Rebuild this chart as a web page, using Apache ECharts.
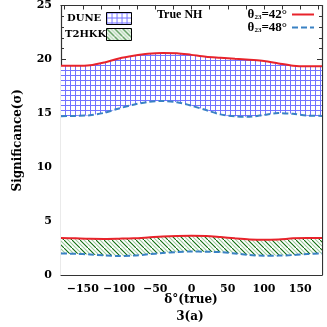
<!DOCTYPE html>
<html>
<head>
<meta charset="utf-8">
<script src="https://cdn.jsdelivr.net/npm/echarts@6/dist/echarts.min.js"></script>
<style>
  html, body { margin: 0; padding: 0; background: #fff; }
  #chart { width: 327px; height: 327px; }
</style>
</head>
<body>
<div id="chart"></div>
<script>
// delta_CP (true), degrees
const deltaCP = [-180, -160, -140, -120, -100, -80, -60, -40, -20, 0, 20, 40, 60, 80, 100, 120, 140, 160, 180]
// DUNE, theta23 = 42 (upper edge) and 48 (lower edge)
const dune42 = [19.40, 19.40, 19.45, 19.72, 20.08, 20.33, 20.52, 20.60, 20.58, 20.42, 20.25, 20.15, 20.05, 19.96, 19.86, 19.63, 19.42, 19.37, 19.37]
const dune48 = [14.73, 14.76, 14.82, 15.05, 15.45, 15.80, 16.05, 16.14, 16.02, 15.70, 15.30, 14.90, 14.72, 14.68, 14.85, 15.02, 14.95, 14.78, 14.76]
// T2HKK
const t2hkk42 = [3.44, 3.40, 3.36, 3.35, 3.37, 3.40, 3.48, 3.57, 3.62, 3.63, 3.62, 3.52, 3.40, 3.30, 3.26, 3.30, 3.40, 3.44, 3.44]
const t2hkk48 = [2.00, 1.96, 1.91, 1.82, 1.76, 1.80, 1.92, 2.04, 2.12, 2.18, 2.16, 2.12, 2.00, 1.86, 1.79, 1.80, 1.85, 1.95, 2.00]

const xTicks = [-175, -150, -125, -100, -75, -50, -25, 0, 25, 50, 75, 100, 125, 150, 175]
const xLabels = [-150, -100, -50, 0, 50, 100, 150]

const font = 'DejaVu Serif'
const font2 = 'Liberation Serif'

// blue grid fill for DUNE
function gridPattern() {
  const c = document.createElement('canvas')
  c.width = 5
  c.height = 5
  const g = c.getContext('2d')
  g.fillStyle = '#ffffff'
  g.fillRect(0, 0, 5, 5)
  g.fillStyle = '#7272ff'
  g.fillRect(0, 0, 1, 5)
  g.fillRect(0, 0, 5, 1)
  return c
}

// green diagonal hatch for T2HKK
function hatchPattern() {
  const c = document.createElement('canvas')
  c.width = 8
  c.height = 8
  const g = c.getContext('2d')
  g.fillStyle = '#ffffff'
  g.fillRect(0, 0, 8, 8)
  g.lineWidth = 1.1
  g.strokeStyle = '#0b6b0b'
  g.beginPath()
  g.moveTo(-1, -1); g.lineTo(9, 9)
  g.stroke()
  g.strokeStyle = '#9ccc9c'
  g.beginPath()
  g.moveTo(3, -1); g.lineTo(9, 5)
  g.moveTo(-1, 3); g.lineTo(5, 9)
  g.stroke()
  return c
}

const gridFill = { image: gridPattern(), repeat: 'repeat' }
const hatchFill = { image: hatchPattern(), repeat: 'repeat' }

function pairs(ys) {
  return deltaCP.map((x, i) => [x, ys[i]])
}

function minus(v) {
  return v < 0 ? '\u2212' + (-v) : String(v)
}

const chart = echarts.init(document.getElementById('chart'))

const axisLine = { show: true, onZero: false, lineStyle: { color: '#333', width: 1.2 } }
const boldText = { fontFamily: font, fontWeight: 'bold', color: '#000' }

// area down to the axis; the lower curve is filled white on top of it
function band(name, ys, fill, z) {
  return {
    name: name, type: 'line', data: pairs(ys), symbol: 'none', smooth: 0.3,
    lineStyle: { width: 0 }, areaStyle: { color: fill, opacity: 1, origin: 'start' },
    silent: true, z: z
  }
}
function curve(name, ys, color, dashed) {
  return {
    name: name, type: 'line', data: pairs(ys), symbol: 'none', smooth: 0.3, color: color,
    lineStyle: { color: color, width: 2, type: dashed ? [6, 3] : 'solid' }, z: 10
  }
}

chart.setOption({
  animation: false,
  grid: { left: 61, right: 5, top: 4, bottom: 52 },
  textStyle: { fontFamily: font },
  legend: {
    top: 8,
    right: 12,
    padding: 0,
    orient: 'vertical',
    align: 'right',
    itemWidth: 22,
    itemHeight: 11,
    itemGap: 0,
    itemStyle: { opacity: 0 },
    data: ['θ42', 'θ48'],
    formatter: (n) => n === 'θ42' ? '{b|θ}{s|23}{b|=42°}' : '{b|θ}{s|23}{b|=48°}',
    textStyle: {
      rich: {
        b: { fontFamily: font2, fontWeight: 'bold', fontSize: 13, color: '#000' },
        s: { fontFamily: font2, fontWeight: 'bold', fontSize: 7, color: '#000', padding: [6, 0, 0, 0] }
      }
    }
  },
  xAxis: [{
    type: 'value',
    min: -180,
    max: 180,
    axisLine: axisLine,
    axisTick: { show: true, inside: true, length: 4, customValues: xTicks, lineStyle: { color: '#333' } },
    axisLabel: Object.assign({ customValues: xLabels, formatter: minus, margin: 9, fontSize: 11 }, boldText),
    splitLine: { show: false }
  }, {
    type: 'value',
    position: 'top',
    min: -180,
    max: 180,
    axisLine: axisLine,
    axisTick: { show: true, inside: true, length: 4, customValues: xTicks, lineStyle: { color: '#333' } },
    axisLabel: { show: false },
    splitLine: { show: false }
  }],
  yAxis: [{
    type: 'value',
    min: 0,
    max: 25,
    interval: 5,
    name: 'Significance(σ)',
    nameLocation: 'middle',
    nameGap: 37,
    nameTextStyle: Object.assign({ fontSize: 12 }, boldText),
    axisLine: axisLine,
    axisTick: { show: true, inside: true, length: 5, lineStyle: { color: '#333' } },
    minorTick: { show: true, splitNumber: 5, length: 3, lineStyle: { color: '#333' } },
    axisLabel: Object.assign({ margin: 9, fontSize: 11 }, boldText),
    splitLine: { show: false }
  }, {
    type: 'value',
    position: 'right',
    min: 0,
    max: 25,
    interval: 5,
    axisLine: axisLine,
    axisTick: { show: true, inside: true, length: 5, lineStyle: { color: '#333' } },
    minorTick: { show: true, splitNumber: 5, length: 3, lineStyle: { color: '#333' } },
    axisLabel: { show: false },
    splitLine: { show: false }
  }],
  title: [{
    text: 'δ°(true)',
    left: 191,
    textAlign: 'center',
    top: 294,
    padding: 0,
    textStyle: Object.assign({ fontSize: 12 }, boldText)
  }, {
    text: '3(a)',
    left: 190,
    textAlign: 'center',
    top: 311,
    padding: 0,
    textStyle: Object.assign({ fontSize: 12 }, boldText)
  }, {
    text: 'True NH',
    left: 157,
    top: 9,
    padding: 0,
    textStyle: { fontFamily: font2, fontWeight: 'bold', fontSize: 12, color: '#000' }
  }],
  graphic: [
    { type: 'text', left: 67, top: 13, style: { text: 'DUNE', font: 'bold 10px "DejaVu Serif"', fill: '#000' } },
    { type: 'rect', left: 106, top: 12, shape: { width: 25, height: 12 }, style: { fill: gridFill, stroke: '#000', lineWidth: 1 } },
    { type: 'text', left: 65, top: 29, style: { text: 'T2HKK', font: 'bold 10px "DejaVu Serif"', fill: '#000' } },
    { type: 'rect', left: 106, top: 28, shape: { width: 25, height: 12 }, style: { fill: hatchFill, stroke: '#000', lineWidth: 1 } }
  ],
  series: [
    band('duneFill', dune42, gridFill, 1),
    band('duneCut', dune48, '#ffffff', 2),
    band('t2Fill', t2hkk42, hatchFill, 3),
    band('t2Cut', t2hkk48, '#ffffff', 4),
    curve('θ42', dune42, '#e8232b', false),
    curve('θ48', dune48, '#3a82c4', true),
    curve('t2hkk42', t2hkk42, '#e8232b', false),
    curve('t2hkk48', t2hkk48, '#3a82c4', true)
  ]
})
</script>
</body>
</html>
